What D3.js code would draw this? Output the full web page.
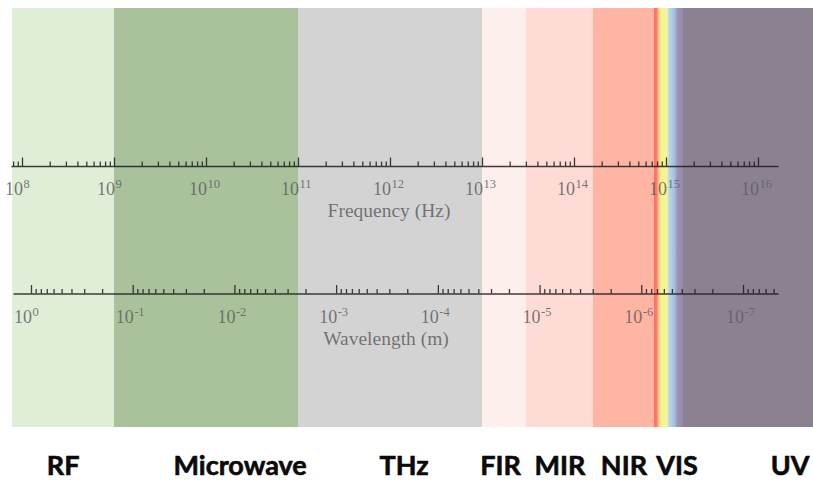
<!DOCTYPE html>
<html>
<head>
<meta charset="utf-8">
<script src="https://cdn.jsdelivr.net/npm/d3@7"></script>
<style>
  body { margin: 0; background: #fff; }
  svg { display: block; }
</style>
</head>
<body>
<div id="chart"></div>
<script>
// Data
const bandNames = ["RF", "Microwave", "THz", "FIR", "MIR", "NIR", "VIS", "UV"]
// band edges in Hz (n+1 edges for n bands)
const bandEdgesHz = [7.8e7, 1e9, 1e11, 1e13, 3e13, 1.6e14, 7.4e14, 1.53e15, 4e16]
// where each band name sits (Hz)
const labelHz = [2.8e8, 2.35e10, 1.42e12, 1.59e13, 7.05e13, 3.49e14, 1.32e15, 2.23e16]
const freqExp = [8, 9, 10, 11, 12, 13, 14, 15, 16]
const waveExp = [0, -1, -2, -3, -4, -5, -6, -7]

// Styles
const bandColors = ["#e0eed8", "#a9c29b", "#d3d3d3", "#fdefeb", "#fedcd5", "#ffb5a4", "url(#visGrad)", "#8c8191"]
const visStops = [
    [0.00, "#ff6a66"], [0.10, "#ff7f70"], [0.16, "#ffc98a"], [0.24, "#f9f38a"],
    [0.45, "#eef6a0"], [0.52, "#b9d8e4"], [0.72, "#a3bde0"], [0.80, "#9d93b8"], [1.00, "#978aa6"]
]

const W = 813, H = 481
const bandTop = 8, bandBottom = 427
const freqY = 166, waveY = 293.5

const svg = d3.select("#chart").append("svg")
    .attr("width", W).attr("height", H)

// frequency scale, anchored on the decades
const fx = d3.scaleLog().domain([1e9, 1e16]).range([114, 758])
// wavelength scale (decreasing to the right)
const wx = d3.scaleLog().domain([1, 1e-7]).range([31, 743])

// gradient for the visible band
const grad = svg.append("defs").append("linearGradient")
    .attr("id", "visGrad")
    .attr("x1", "0%").attr("x2", "100%").attr("y1", "0%").attr("y2", "0%")
grad.selectAll("stop").data(visStops).join("stop")
    .attr("offset", d => d[0])
    .attr("stop-color", d => d[1])

// Bands
const bands = bandNames.map((name, i) => ({name: name, from: bandEdgesHz[i], to: bandEdgesHz[i + 1], color: bandColors[i]}))
svg.append("g").selectAll("rect").data(bands).join("rect")
    .attr("x", d => fx(d.from))
    .attr("y", bandTop)
    .attr("width", d => fx(d.to) - fx(d.from))
    .attr("height", bandBottom - bandTop)
    .attr("fill", d => d.color)

// minor / major tick values for a log axis
function logTicks(scale, lo, hi) {
    const d = scale.domain()
    const mn = Math.min(d[0], d[1]), mx = Math.max(d[0], d[1])
    const minor = [], major = []
    for (let e = lo; e <= hi; e++) {
        for (let k = 1; k <= 9; k++) {
            const v = k * Math.pow(10, e)
            if (v < mn || v > mx) continue
            if (k == 1) major.push(v); else minor.push(v)
        }
    }
    return {minor, major}
}

function drawAxis(scale, x0, x1, y, lo, hi) {
    const s = scale.copy().domain([scale.invert(x0), scale.invert(x1)]).range([x0, x1])
    const t = logTicks(s, lo, hi)
    const g = svg.append("g").attr("transform", "translate(0," + y + ")")
    g.append("g")
        .call(d3.axisTop(s).tickValues(t.minor).tickSizeInner(4.5).tickSizeOuter(0).tickFormat(""))
    g.append("g")
        .call(d3.axisTop(s).tickValues(t.major).tickSizeInner(8.5).tickSizeOuter(0).tickFormat(""))
        .select(".domain").remove()
    g.selectAll(".domain")
        .attr("stroke", "#1c1c1c").attr("stroke-width", 1.6).attr("stroke-opacity", 0.85)
    g.selectAll(".tick line")
        .attr("stroke", "#1c1c1c").attr("stroke-width", 1.3).attr("stroke-opacity", 0.85)
}

drawAxis(fx, 11, 778, freqY, 7, 16)
drawAxis(wx, 13, 778, waveY, -8, 1)

// power-of-ten labels
function drawLabels(scale, exps, base, y) {
    const g = svg.append("g")
        .attr("font-family", "'Liberation Serif', 'Times New Roman', serif")
        .attr("fill", "#5f5f5f").attr("fill-opacity", 0.85)
    g.selectAll("text.base").data(exps).join("text")
        .attr("class", "base")
        .attr("x", d => scale(Math.pow(10, d)) + 1)
        .attr("y", y)
        .attr("text-anchor", "end")
        .attr("font-size", 18)
        .text(base)
    g.selectAll("text.sup").data(exps).join("text")
        .attr("class", "sup")
        .attr("x", d => scale(Math.pow(10, d)) + 1.5)
        .attr("y", y - 7.5)
        .attr("font-size", 12.5)
        .text(d => d < 0 ? "-" + (-d) : d)
}

drawLabels(fx, freqExp, "10", 195)
drawLabels(wx, waveExp, "10", 323)

// axis titles
svg.append("text")
    .attr("x", fx(1e12) - 1)
    .attr("y", 217)
    .attr("text-anchor", "middle")
    .attr("font-family", "'Liberation Serif', 'Times New Roman', serif")
    .attr("font-size", 19.5)
    .attr("fill", "#5f5f5f").attr("fill-opacity", 0.85)
    .text("Frequency (Hz)")

svg.append("text")
    .attr("x", fx(1e12) - 4)
    .attr("y", 345)
    .attr("text-anchor", "middle")
    .attr("font-family", "'Liberation Serif', 'Times New Roman', serif")
    .attr("font-size", 19.5)
    .attr("fill", "#5f5f5f").attr("fill-opacity", 0.85)
    .text("Wavelength (m)")

// Band names
svg.append("g").selectAll("text").data(bandNames).join("text")
    .attr("x", (d, i) => fx(labelHz[i]))
    .attr("y", 475)
    .attr("text-anchor", "middle")
    .attr("font-family", "Lato, 'Open Sans', sans-serif")
    .attr("font-weight", "bold")
    .attr("font-size", 27)
    .attr("fill", "#0a0a0a")
    .attr("stroke", "#0a0a0a")
    .attr("stroke-width", 0.6)
    .text(d => d)
</script>
</body>
</html>
